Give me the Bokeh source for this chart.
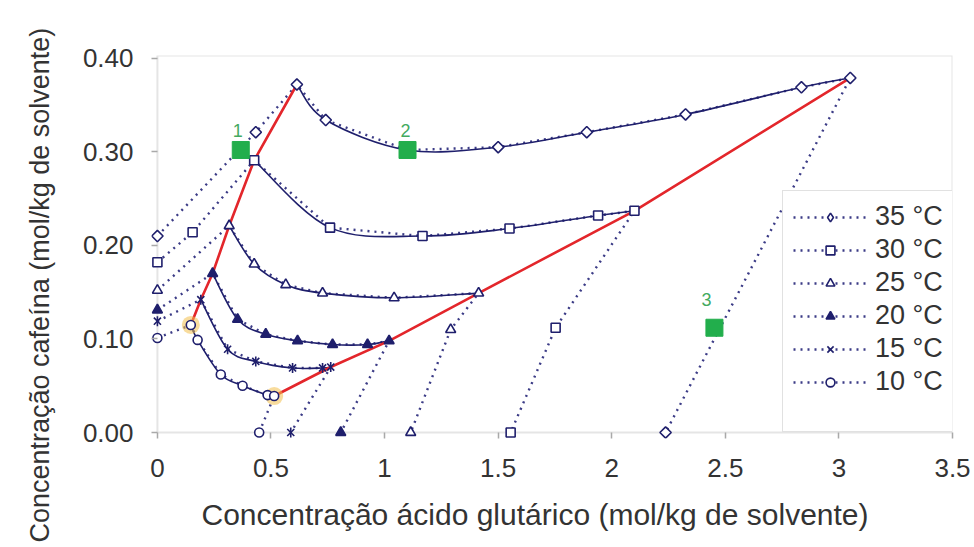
import numpy as np
from bokeh.plotting import figure
from bokeh.models import (Range1d, FixedTicker, Legend, LegendItem, Title,
                          BoxAnnotation, ColumnDataSource)
from bokeh.embed import file_html
from bokeh.resources import INLINE
from bokeh.core.properties import value

# ---------------------------------------------------------------- data
series_names = ["35 °C", "30 °C", "25 °C", "20 °C", "15 °C", "10 °C"]

# measured compositions, in the order the series path connects them
x35 = [0.000, 0.433, 0.614, 0.741, 1.100, 1.500, 1.890, 2.325, 2.835, 3.050, 2.237]
y35 = [0.210, 0.321, 0.372, 0.334, 0.302, 0.305, 0.321, 0.340, 0.369, 0.379, 0.000]
x30 = [0.000, 0.155, 0.426, 0.760, 1.167, 1.550, 1.940, 2.100, 1.753, 1.555]
y30 = [0.182, 0.214, 0.291, 0.219, 0.210, 0.218, 0.232, 0.237, 0.112, 0.000]
x25 = [0.000, 0.316, 0.426, 0.565, 0.727, 1.042, 1.414, 1.291, 1.115]
y25 = [0.152, 0.221, 0.180, 0.158, 0.149, 0.144, 0.149, 0.110, 0.000]
x20 = [0.000, 0.243, 0.353, 0.477, 0.617, 0.771, 0.925, 1.020, 0.807]
y20 = [0.131, 0.170, 0.121, 0.105, 0.098, 0.094, 0.094, 0.098, 0.000]
x15 = [0.000, 0.191, 0.309, 0.433, 0.595, 0.727, 0.763, 0.587]
y15 = [0.119, 0.142, 0.089, 0.076, 0.069, 0.069, 0.070, 0.000]
x10 = [0.000, 0.147, 0.177, 0.279, 0.375, 0.485, 0.514, 0.448]
y10 = [0.101, 0.115, 0.099, 0.062, 0.050, 0.040, 0.039, 0.000]

# index of the first and last invariant point of each solubility curve
inv_first = [2, 2, 1, 1, 1, 1]
inv_last = [9, 7, 6, 7, 6, 6]

# numbered reference compositions
ref_x = [0.367, 1.101, 2.452]
ref_y = [0.302, 0.302, 0.112]
ref_names = ["1", "2", "3"]

x_ticks = [0, 0.5, 1, 1.5, 2, 2.5, 3, 3.5]
x_tick_labels = ["0", "0.5", "1", "1.5", "2", "2.5", "3", "3.5"]
y_ticks = [0.0, 0.1, 0.2, 0.3, 0.4]
y_tick_labels = ["0.00", "0.10", "0.20", "0.30", "0.40"]

xs_all = [x35, x30, x25, x20, x15, x10]
ys_all = [y35, y30, y25, y20, y15, y10]

# ---------------------------------------------------------------- style
FONT = "Liberation Sans"
TXT = "#333333"
NAVY = "#1f1f6c"
DOT = "#3b3b86"
RED = "#e3262b"
GREEN = "#22ae4c"
AXIS_GREY = "#a9a9a9"

# marker, rotation, size, fill and the unrotated legend key
marker_style = [
    dict(marker="square", angle=np.pi / 4, size=8, fill_color="white", key="diamond"),
    dict(marker="square", angle=0, size=9, fill_color="white", key="square"),
    dict(marker="triangle", angle=0, size=10, fill_color="white", key="triangle"),
    dict(marker="triangle", angle=0, size=10, fill_color=NAVY, key="triangle"),
    dict(marker="x", angle=0, size=10, fill_color=NAVY, key="x"),
    dict(marker="circle", angle=0, size=9, fill_color="white", key="circle"),
]
ref_label_dx = [-3, -2, -8]
ref_label_dy = [-19, -19, -28]

p = figure(width=974, height=547,
           x_range=Range1d(-0.026, 3.5), y_range=Range1d(-0.0064, 0.403),
           output_backend="svg", toolbar_location=None,
           min_border_left=151, min_border_right=22,
           min_border_top=55, min_border_bottom=108)
p.xgrid.visible = False
p.ygrid.visible = False
p.outline_line_color = None
p.background_fill_color = "white"
p.border_fill_color = "white"

# plot-area frame (axis lines at zero plus the light top/right border)
p.add_layout(BoxAnnotation(left=x_ticks[0], right=x_ticks[-1],
                           bottom=y_ticks[0], top=p.y_range.end,
                           fill_alpha=0, line_color=AXIS_GREY, line_width=2,
                           level="underlay"))

for ax in (p.xaxis[0], p.yaxis[0]):
    ax.axis_line_alpha = 0
    ax.major_tick_out = 0
    ax.major_tick_in = 6
    ax.minor_tick_in = 0
    ax.minor_tick_out = 0
    ax.major_tick_line_color = AXIS_GREY
    ax.major_tick_line_width = 1.5
    ax.major_label_text_font = FONT
    ax.major_label_text_font_size = "26px"
    ax.major_label_text_color = TXT

p.xaxis.ticker = FixedTicker(ticks=x_ticks)
p.xaxis.major_label_overrides = {t: s for t, s in zip(x_ticks, x_tick_labels)}
p.xaxis.major_label_standoff = 20
p.yaxis.ticker = FixedTicker(ticks=y_ticks)
p.yaxis.major_label_overrides = {t: s for t, s in zip(y_ticks, y_tick_labels)}
p.yaxis.major_label_standoff = 18


def smooth_segments(xs, ys):
    """Cubic Bezier control points of a Catmull-Rom curve through the points."""
    P = np.column_stack([xs, ys]).astype(float)
    E = np.vstack([P[0], P, P[-1]])
    seg = dict(x0=[], y0=[], x1=[], y1=[], cx0=[], cy0=[], cx1=[], cy1=[])
    for i in range(len(P) - 1):
        p0, p1, p2, p3 = E[i], E[i + 1], E[i + 2], E[i + 3]
        c1 = p1 + (p2 - p0) / 6.0
        c2 = p2 - (p3 - p1) / 6.0
        seg["x0"].append(p1[0]); seg["y0"].append(p1[1])
        seg["x1"].append(p2[0]); seg["y1"].append(p2[1])
        seg["cx0"].append(c1[0]); seg["cy0"].append(c1[1])
        seg["cx1"].append(c2[0]); seg["cy1"].append(c2[1])
    return seg


# dotted series paths
dot_renderers = []
for xs, ys in zip(xs_all, ys_all):
    r = p.line(xs, ys, line_color=DOT, line_width=2.4, line_dash="2 5")
    dot_renderers.append(r)

# smoothed solubility curves between the invariant points
for xs, ys, a, b in zip(xs_all, ys_all, inv_first, inv_last):
    seg = smooth_segments(xs[a:b + 1], ys[a:b + 1])
    p.bezier(source=ColumnDataSource(seg), x0="x0", y0="y0", x1="x1", y1="y1",
             cx0="cx0", cy0="cy0", cx1="cx1", cy1="cy1",
             line_color=NAVY, line_width=1.6)

# lines through the invariant points (low to high temperature)
left_x = [xs[a] for xs, a in zip(xs_all[::-1], inv_first[::-1])]
left_y = [ys[a] for ys, a in zip(ys_all[::-1], inv_first[::-1])]
right_x = [xs[b] for xs, b in zip(xs_all[::-1], inv_last[::-1])]
right_y = [ys[b] for ys, b in zip(ys_all[::-1], inv_last[::-1])]
p.multi_line([left_x, right_x], [left_y, right_y], line_color=RED, line_width=2.6)

# highlighted invariant points of the lowest isotherm
p.scatter([x10[inv_first[-1]], x10[inv_last[-1]]],
          [y10[inv_first[-1]], y10[inv_last[-1]]],
          marker="circle", size=18, fill_color="#f2c04c", fill_alpha=0.55,
          line_alpha=0)

# markers
legend_items = []
for name, xs, ys, st, dr in zip(series_names, xs_all, ys_all, marker_style, dot_renderers):
    rs = [dr]
    kw = dict(size=st["size"], fill_color=st["fill_color"], line_color=NAVY,
              line_width=1.6)
    if st["angle"]:
        p.scatter(xs, ys, marker=st["marker"], angle=st["angle"], **kw)
        # unrotated legend key (a single point with no y value, not drawn)
        key = p.scatter(xs[:1], [float("nan")], marker=st["key"],
                        size=st["size"] + 3, fill_color=st["fill_color"],
                        line_color=NAVY, line_width=1.6)
        rs.append(key)
    else:
        r = p.scatter(xs, ys, marker=st["marker"], **kw)
        rs.append(r)
    if st["marker"] == "x":
        p.scatter(xs, ys, marker="dash", angle=np.pi / 2,
                  size=st["size"], line_color=NAVY, line_width=1.6)
    legend_items.append(LegendItem(label=name, renderers=rs))

# numbered reference points
ref_src = ColumnDataSource(dict(x=ref_x, y=ref_y, t=ref_names,
                                dx=ref_label_dx, dy=ref_label_dy))
p.scatter("x", "y", source=ref_src, marker="square", size=17,
          fill_color=GREEN, line_color=GREEN)
p.text("x", "y", text="t", source=ref_src, x_offset="dx", y_offset="dy",
       text_font=value(FONT), text_font_size="18px", text_color="#43aa5f",
       text_align="center", text_baseline="middle")

legend = Legend(items=legend_items, location=(631, 6), margin=0, padding=10,
                spacing=2, glyph_width=74, glyph_height=22, label_height=30,
                label_standoff=8,
                label_text_font=FONT, label_text_font_size="27px",
                label_text_color=TXT,
                border_line_color="#c4c4c4", border_line_width=1.5,
                background_fill_color="white", background_fill_alpha=1.0,
                title=" ", title_location="below", title_standoff=2,
                title_text_font_size="19px")
p.add_layout(legend)

# axis titles
p.add_layout(Title(text="Concentração ácido glutárico (mol/kg de solvente)",
                   align="left", offset=50, standoff=33,
                   text_font=FONT, text_font_size="30px", text_color=TXT,
                   text_font_style="normal"), "below")
p.add_layout(Title(text="Concentração cafeína (mol/kg de solvente)",
                   align="left", offset=-104, standoff=45, vertical_align="top",
                   text_font=FONT, text_font_size="27px", text_color=TXT,
                   text_font_style="normal"), "left")

open("out.html", "w").write(file_html(p, INLINE))
